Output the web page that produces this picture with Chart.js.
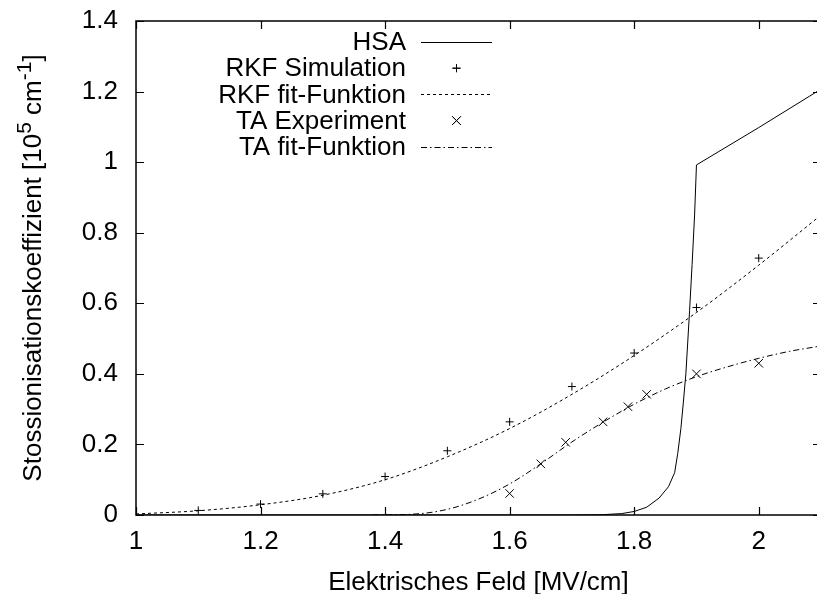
<!DOCTYPE html>
<html>
<head>
<meta charset="utf-8">
<script src="https://cdn.jsdelivr.net/npm/chart.js@4.4.0/dist/chart.umd.min.js"></script>
<style>
  html, body { margin: 0; padding: 0; background: #fff; overflow: hidden; }
  #wrap { position: relative; width: 830px; height: 594px; }
</style>
</head>
<body>
<div id="wrap"><canvas id="chart"></canvas></div>
<script>
// ---- data ----
const xTicks = [1, 1.2, 1.4, 1.6, 1.8, 2];
const xTickLabels = ['1', '1.2', '1.4', '1.6', '1.8', '2'];
const yTicks = [0, 0.2, 0.4, 0.6, 0.8, 1, 1.2, 1.4];
const yTickLabels = ['0', '0.2', '0.4', '0.6', '0.8', '1', '1.2', '1.4'];

// HSA model curve
const hsaX = [1.0, 1.7, 1.75, 1.78, 1.80, 1.82, 1.84, 1.855, 1.865, 1.870, 1.875, 1.879, 1.883, 1.886, 1.889, 1.893, 1.897, 1.900, 2.0, 2.1];
const hsaY = [0, 0, 0.001, 0.004, 0.010, 0.022, 0.048, 0.080, 0.120, 0.175, 0.245, 0.320, 0.400, 0.490, 0.580, 0.710, 0.850, 0.992, 1.098, 1.207];

// RKF simulation points and fit
const rkfSimX = [1.1, 1.2, 1.3, 1.4, 1.5, 1.6, 1.7, 1.8, 1.9, 2.0];
const rkfSimY = [0.013, 0.031, 0.060, 0.109, 0.182, 0.264, 0.364, 0.459, 0.588, 0.728];
const rkfFitX = [1.0, 1.1, 1.2, 1.3, 1.4, 1.5, 1.6, 1.7, 1.8, 1.9, 2.0, 2.1];
const rkfFitY = [0.003, 0.012, 0.029, 0.056, 0.100, 0.165, 0.245, 0.342, 0.452, 0.574, 0.708, 0.850];

// TA experiment points and fit
const taExpX = [1.6, 1.65, 1.69, 1.75, 1.79, 1.82, 1.9, 2.0];
const taExpY = [0.061, 0.145, 0.206, 0.264, 0.307, 0.342, 0.400, 0.430];
const taFitX = [1.38, 1.45, 1.50, 1.55, 1.60, 1.65, 1.70, 1.75, 1.80, 1.85, 1.90, 1.95, 2.00, 2.05, 2.10];
const taFitY = [0.000, 0.003, 0.016, 0.045, 0.088, 0.145, 0.207, 0.263, 0.314, 0.357, 0.392, 0.420, 0.444, 0.464, 0.479];

const xy = (xs, ys) => xs.map((x, i) => ({ x, y: ys[i] }));

const FONT = 'Liberation Sans, Arial, Helvetica, sans-serif';
const FONT_SIZE = 26;

// frame with inward ticks on all four sides
const framePlugin = {
  id: 'frame',
  afterDraw(chart) {
    const { ctx, chartArea: a, scales } = chart;
    const len = 8;
    ctx.save();
    ctx.strokeStyle = '#000';
    ctx.lineWidth = 1.5;
    ctx.strokeRect(a.left, a.top, a.right - a.left, a.bottom - a.top);
    ctx.lineWidth = 1.2;
    ctx.beginPath();
    xTicks.forEach(v => {
      const px = Math.round(scales.x.getPixelForValue(v)) + 0.5;
      ctx.moveTo(px, a.bottom); ctx.lineTo(px, a.bottom - len);
      ctx.moveTo(px, a.top); ctx.lineTo(px, a.top + len);
    });
    yTicks.forEach(v => {
      const py = Math.round(scales.y.getPixelForValue(v)) + 0.5;
      ctx.moveTo(a.left, py); ctx.lineTo(a.left + len, py);
      ctx.moveTo(a.right, py); ctx.lineTo(a.right - len, py);
    });
    ctx.stroke();
    ctx.restore();
  }
};

// axis titles (y title has superscripts)
const yTitleParts = [
  { text: 'Stossionisationskoeffizient [10', sup: false },
  { text: '5', sup: true },
  { text: ' cm', sup: false },
  { text: '-1', sup: true },
  { text: ']', sup: false }
];

const titlePlugin = {
  id: 'titles',
  afterDraw(chart) {
    const { ctx, chartArea: a } = chart;
    ctx.save();
    ctx.fillStyle = '#000';
    ctx.textBaseline = 'alphabetic';

    ctx.font = FONT_SIZE + 'px ' + FONT;
    ctx.textAlign = 'center';
    ctx.fillText('Elektrisches Feld [MV/cm]', (a.left + a.right) / 2, 590);

    const supSize = Math.round(FONT_SIZE * 0.8);
    let total = 0;
    yTitleParts.forEach(p => {
      ctx.font = (p.sup ? supSize : FONT_SIZE) + 'px ' + FONT;
      p.w = ctx.measureText(p.text).width;
      total += p.w;
    });
    ctx.translate(41, (a.top + a.bottom) / 2);
    ctx.rotate(-Math.PI / 2);
    ctx.textAlign = 'left';
    let x = -total / 2;
    yTitleParts.forEach(p => {
      ctx.font = (p.sup ? supSize : FONT_SIZE) + 'px ' + FONT;
      ctx.fillText(p.text, x, p.sup ? -FONT_SIZE * 0.4 : 0);
      x += p.w;
    });
    ctx.restore();
  }
};

// key: right-aligned labels followed by line / marker samples
const keyPlugin = {
  id: 'key',
  afterDatasetsDraw(chart) {
    const { ctx } = chart;
    const textRight = 406, sampleL = 421, sampleR = 492, rowTop = 42, rowStep = 26.2;
    ctx.save();
    ctx.font = FONT_SIZE + 'px ' + FONT;
    ctx.textAlign = 'right';
    ctx.textBaseline = 'middle';
    chart.data.datasets.forEach((ds, i) => {
      const y = rowTop + i * rowStep;
      ctx.fillStyle = '#000';
      ctx.fillText(ds.label, textRight, y + 1);
      ctx.strokeStyle = '#000';
      if (ds.showLine === false) {
        Chart.helpers.drawPoint(ctx, {
          pointStyle: ds.pointStyle, radius: ds.pointRadius, rotation: 0, borderWidth: ds.pointBorderWidth
        }, (sampleL + sampleR) / 2, y);
        ctx.lineWidth = ds.pointBorderWidth;
        ctx.stroke();
      } else {
        ctx.lineWidth = ds.borderWidth;
        ctx.setLineDash(ds.borderDash || []);
        ctx.beginPath();
        ctx.moveTo(sampleL, Math.round(y) + 0.5);
        ctx.lineTo(sampleR, Math.round(y) + 0.5);
        ctx.stroke();
        ctx.setLineDash([]);
      }
    });
    ctx.restore();
  }
};

const lineSet = (label, data, dash, smooth) => ({
  label, data,
  borderColor: '#000', borderWidth: 1, borderDash: dash,
  pointRadius: 0, fill: false,
  cubicInterpolationMode: smooth ? 'monotone' : 'default', tension: 0
});
const markSet = (label, data, style, r) => ({
  label, data, showLine: false,
  pointStyle: style, pointRadius: r, pointBorderWidth: 1,
  pointBorderColor: '#000', pointBackgroundColor: '#000'
});

Chart.defaults.font.family = FONT;
Chart.defaults.font.size = FONT_SIZE;
Chart.defaults.color = '#000';

new Chart(document.getElementById('chart'), {
  type: 'line',
  data: {
    datasets: [
      lineSet('HSA', xy(hsaX, hsaY), [], false),
      markSet('RKF Simulation', xy(rkfSimX, rkfSimY), 'cross', 4),
      lineSet('RKF fit-Funktion', xy(rkfFitX, rkfFitY), [3, 3], true),
      markSet('TA Experiment', xy(taExpX, taExpY), 'crossRot', 6),
      lineSet('TA fit-Funktion', xy(taFitX, taFitY), [6, 3, 1.5, 3], true)
    ]
  },
  options: {
    responsive: true,
    maintainAspectRatio: false,
    devicePixelRatio: 1,
    animation: false,
    layout: { padding: { top: 21, right: 9, left: 0, bottom: 0 } },
    plugins: { legend: { display: false }, tooltip: { enabled: false } },
    scales: {
      x: {
        type: 'linear', min: 1, max: 2.1,
        grid: { display: false, drawTicks: false },
        border: { display: false },
        ticks: {
          padding: 11, maxRotation: 0, autoSkip: false,
          callback: (v, i) => xTickLabels[i]
        },
        afterBuildTicks: s => { s.ticks = xTicks.map(v => ({ value: v })); },
        afterFit: s => { s.height = 79; s.paddingLeft = 0; s.paddingRight = 0; }
      },
      y: {
        type: 'linear', min: 0, max: 1.4,
        grid: { display: false, drawTicks: false },
        border: { display: false },
        ticks: {
          padding: 18, autoSkip: false,
          callback: (v, i) => yTickLabels[i]
        },
        afterBuildTicks: s => { s.ticks = yTicks.map(v => ({ value: v })); },
        afterFit: s => { s.width = 136; s.paddingTop = 0; s.paddingBottom = 0; }
      }
    }
  },
  plugins: [framePlugin, titlePlugin, keyPlugin]
});
</script>
</body>
</html>
